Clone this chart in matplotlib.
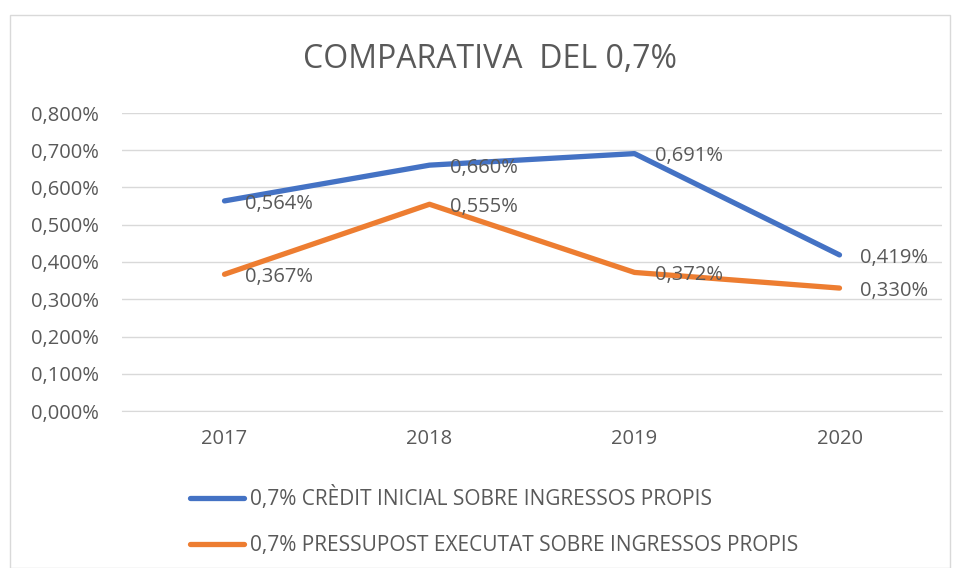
import matplotlib
matplotlib.use("Agg")
import matplotlib.pyplot as plt
from matplotlib.patches import Rectangle
from matplotlib.ticker import FuncFormatter, MultipleLocator

years = ["2017", "2018", "2019", "2020"]
credit_inicial = [0.564, 0.660, 0.691, 0.419]
pressupost_executat = [0.367, 0.555, 0.372, 0.330]
series_names = ["0,7% CRÈDIT INICIAL SOBRE INGRESSOS PROPIS",
                "0,7% PRESSUPOST EXECUTAT SOBRE INGRESSOS PROPIS"]
title = "COMPARATIVA  DEL 0,7%"

plt.rcParams['font.family'] = ['Open Sans', 'DejaVu Sans']
txt = '#595959'
blue = '#4472C4'
orange = '#ED7D31'
fs = 14.5

fig = plt.figure(figsize=(9.57, 5.68), dpi=100)
fig.patches.append(Rectangle((10/957, 0.0), 940/957, 1 - 15/568, transform=fig.transFigure,
                             fill=False, edgecolor='#D9D9D9', linewidth=1.0))
ax = fig.add_axes([122/957, 1 - 411/568, 820/957, 298/568])

x = list(range(len(years)))
for vals, col, name in [(credit_inicial, blue, series_names[0]),
                        (pressupost_executat, orange, series_names[1])]:
    ax.plot(x, vals, color=col, linewidth=3.8, solid_capstyle='round',
            solid_joinstyle='round', label=name)
    for xi, v in zip(x, vals):
        ax.annotate(f"{v:.3f}%".replace('.', ','), (xi, v), xytext=(15, -2),
                    textcoords='offset points', ha='left', va='center',
                    fontsize=fs, color=txt)

ax.set_xlim(-0.5, len(years) - 0.5)
ax.set_ylim(0, 0.8)
ax.set_xticks(x)
ax.set_xticklabels(years)
ax.yaxis.set_major_locator(MultipleLocator(0.1))
ax.yaxis.set_major_formatter(FuncFormatter(lambda v, p: f"{v:.3f}%".replace('.', ',')))
ax.grid(axis='y', color='#D9D9D9', linewidth=1.0)
ax.set_axisbelow(True)
for s in ['top', 'right', 'left']:
    ax.spines[s].set_visible(False)
ax.spines['bottom'].set_color('#D9D9D9')
ax.tick_params(axis='both', length=0, labelsize=fs, labelcolor=txt)
ax.tick_params(axis='y', pad=16.5)
ax.tick_params(axis='x', pad=13)

fig.text(490/957, 1 - 60/568, title, ha='center', va='center', fontsize=23, color=txt)

leg = fig.legend(loc='upper left', bbox_to_anchor=(190/957, 1 - 486/568), frameon=False,
                 fontsize=15, labelcolor=txt, handlelength=2.6, handletextpad=0.3,
                 labelspacing=1.2, borderpad=0, borderaxespad=0)

fig.savefig("out.png", dpi=100, facecolor='white')
